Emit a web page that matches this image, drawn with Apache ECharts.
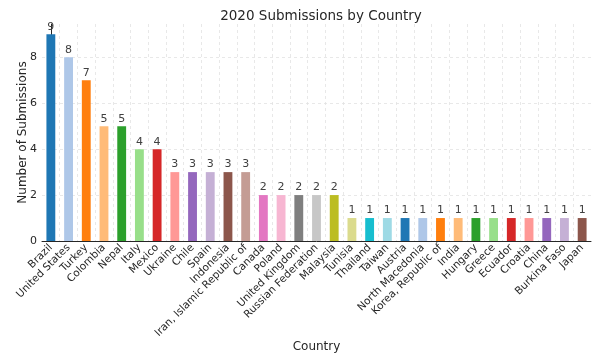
<!DOCTYPE html>
<html><head><meta charset="utf-8">
<script src="https://cdn.jsdelivr.net/npm/echarts@6/dist/echarts.min.js"></script>
<style>html,body{margin:0;padding:0;background:#fff}#c{width:600px;height:360px}</style>
</head><body><div id="c"></div>
<script>
const countries = ["Brazil","United States","Turkey","Colombia","Nepal","Italy","Mexico","Ukraine","Chile","Spain","Indonesia","Iran, Islamic Republic of","Canada","Poland","United Kingdom","Russian Federation","Malaysia","Tunisia","Thailand","Taiwan","Austria","North Macedonia","Korea, Republic of","India","Hungary","Greece","Ecuador","Croatia","China","Burkina Faso","Japan"];
const submissions = [9,8,7,5,5,4,4,3,3,3,3,3,2,2,2,2,2,1,1,1,1,1,1,1,1,1,1,1,1,1,1];
const yTicks = [0,2,4,6,8];
const palette = ["#1f77b4","#aec7e8","#ff7f0e","#ffbb78","#2ca02c","#98df8a","#d62728","#ff9896","#9467bd","#c5b0d5","#8c564b","#c49c94","#e377c2","#f7b6d2","#7f7f7f","#c7c7c7","#bcbd22","#dbdb8d","#17becf","#9edae5"];

const font = "DejaVu Sans";
const chart = echarts.init(document.getElementById('c'), null, {renderer:'canvas'});
const n = countries.length;
chart.setOption({
  animation:false,
  textStyle:{fontFamily:font},
  title:{text:'2020 Submissions by Country', left:316, top:4, textAlign:'center',
    textStyle:{fontFamily:font, fontSize:13.5, fontWeight:'normal', color:'#262626'}},
  grid:{left:42, right:9, top:24, bottom:119, containLabel:false},
  xAxis:[{
    type:'category', data:countries, boundaryGap:true,
    name:'Country', nameLocation:'middle', nameGap:100, nameMoveOverlap:false,
    nameTextStyle:{fontFamily:font, fontSize:12, color:'#262626'},
    axisLine:{lineStyle:{color:'#262626', width:1}},
    axisTick:{alignWithLabel:true, length:3, lineStyle:{color:'#262626'}},
    axisLabel:{interval:0, rotate:45, fontFamily:font, fontSize:10.5, color:'#262626', margin:5},
    splitLine:{show:false}
  },{
    type:'value', min:-0.5, max:n-0.5, interval:1, show:true, position:'bottom',
    axisLine:{show:false}, axisTick:{show:false}, axisLabel:{show:false},
    splitLine:{show:true, showMinLine:false, showMaxLine:false, lineStyle:{color:'#e2e2e2', type:[3,3], width:0.8}}
  }],
  yAxis:{
    type:'value', min:0, max:9.45, interval:2,
    name:'Number of Submissions', nameLocation:'middle', nameGap:13, nameMoveOverlap:false,
    nameTextStyle:{fontFamily:font, fontSize:12, color:'#262626'},
    axisLine:{show:true, lineStyle:{color:'#262626', width:1}},
    axisTick:{show:true, length:3, lineStyle:{color:'#262626'}},
    axisLabel:{fontFamily:font, fontSize:11, color:'#262626', margin:5, showMaxLabel:false,
      formatter:function(v){return yTicks.indexOf(v)>=0? String(v):'';}},
    splitLine:{show:true, showMaxLine:false, lineStyle:{color:'#e2e2e2', type:[3,3], width:0.8}}
  },
  series:[{
    type:'bar', xAxisIndex:0, barWidth:'50%',
    data:submissions.map((v,i)=>({value:v, itemStyle:{color:palette[i%palette.length]}})),
    label:{show:true, position:'top', distance:2, fontFamily:font, fontSize:11, color:'#404040'}
  }]
});
</script></body></html>
